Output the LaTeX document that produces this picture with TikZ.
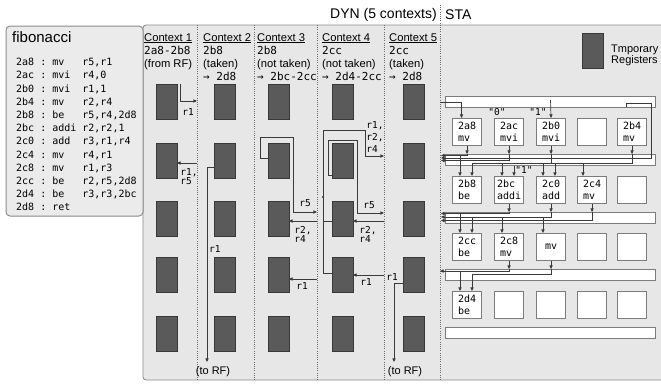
\documentclass[tikz,border=0pt]{standalone}
\usepackage{fontspec}
\setmainfont{Liberation Sans}
\newfontfamily\monof{DejaVu Sans Mono}
\usetikzlibrary{arrows.meta}
\definecolor{panelfill}{HTML}{E7E7E7}
\definecolor{codefill}{HTML}{EBEBEB}
\definecolor{edgec}{HTML}{8C8C8C}
\definecolor{regfill}{HTML}{5A5A5A}
\definecolor{regedge}{HTML}{383838}
\definecolor{wirec}{HTML}{3A3A3A}
\definecolor{boxedge}{HTML}{7C7C7C}
\definecolor{dotc}{HTML}{6E6E6E}
\newcommand\codeln[3]{\makebox[36.12pt][l]{#1 :}\makebox[30.1pt][l]{#2}#3}
\begin{document}
\begin{tikzpicture}[x=1pt,y=-1pt,
  regbox/.style={draw=regedge,fill=regfill,line width=0.6pt,minimum width=21pt,minimum height=35pt,inner sep=0pt,outer sep=0pt,anchor=north west},
  insbox/.style={draw=boxedge,fill=white,line width=1.1pt,minimum width=29pt,minimum height=27pt,inner sep=0pt,anchor=north west,font=\monof\fontsize{10}{12}\selectfont,align=left},
  busbar/.style={draw=boxedge,fill=white,line width=1.1pt,minimum width=210pt,minimum height=11pt,inner sep=0pt,anchor=north west},
  wire/.style={draw=wirec,line width=0.7pt},
  arr/.style={wire,-{Triangle[length=3.6pt,width=3.2pt]}},
  rlab/.style={font=\monof\fontsize{9.5}{9}\selectfont,inner sep=0pt,align=left},
  ctxhead/.style={font=\fontsize{11.2}{13}\selectfont,inner sep=0pt,anchor=base west},
  ctxaddr/.style={font=\monof\fontsize{11}{13}\selectfont,inner sep=0pt,anchor=base west},
  sepline/.style={draw=dotc,line width=0.7pt,dash pattern=on 1pt off 1.2pt},
  codeline/.style={font=\monof\fontsize{10}{12}\selectfont,inner sep=0pt,anchor=base west},
  constlab/.style={font=\monof\fontsize{9.5}{10}\selectfont,inner sep=0pt},
  bigtitle/.style={font=\fontsize{14}{16}\selectfont,inner sep=0pt}
]
\useasboundingbox (0,0) rectangle (661,383);
% panels
\draw[fill=panelfill,draw=edgec,line width=0.9pt,rounded corners=3pt] (143,25) rectangle (672,380);
\draw[fill=codefill,draw=edgec,line width=1pt,rounded corners=4pt] (6,26) rectangle (143,216);
% titles
\node[bigtitle,anchor=east] (dyn) at (437,15) {DYN (5 contexts)};
\node[bigtitle,anchor=west] (sta) at (445,15) {STA};
% code
\node[font=\fontsize{15}{17}\selectfont,inner sep=0pt,anchor=base west] (fib) at (12,42) {fibonacci};
\foreach \a/\m/\o [count=\i] in {2a8/mv/{r5,r1},2ac/mvi/{r4,0},2b0/mvi/{r1,1},2b4/mv/{r2,r4},2b8/be/{r5,r4,2d8},2bc/addi/{r2,r2,1},2c0/add/{r3,r1,r4},2c4/mv/{r4,r1},2c8/mv/{r1,r3},2cc/be/{r2,r5,2d8},2d4/be/{r3,r3,2bc},2d8/ret/{}}
  \node[codeline] (code\i) at (16,{65.6+13.2*(\i-1)}) {\codeln{\a}{\m}{\o}};
% separators
\foreach \x [count=\i] in {197,254,317,384}
  \draw[sepline] (\x,25) -- (\x,380);
\draw[sepline] (440,5) -- (440,380);
% context headers
\foreach \x/\n/\ad/\st/\go in {144/1/2a8-2b8/(from RF)/,203/2/2b8/(taken)/{→ 2d8},257/3/2b8/(not taken)/{→ 2bc-2cc},322/4/2cc/(not taken)/{→ 2d4-2cc},389/5/2cc/(taken)/{→ 2d8}}{
  \node[ctxhead] (ch\n) at (\x,41) {\underline{Context \n}};
  \node[ctxaddr] (ca\n) at (\x,54) {\ad};
  \node[ctxhead] (cs\n) at (\x,67) {\st};
  \node[ctxaddr] (cg\n) at (\x,80) {\go};
}
% registers
\foreach \c/\x in {1/156,2/214,3/268,4/332,5/403}
  \foreach \r/\y in {1/84,2/143,3/201,4/257,5/316}
    \node[regbox] (r\c\r) at (\x,\y) {};
% legend
\node[regbox] (legreg) at (582,33) {};
\node[font=\fontsize{11}{11}\selectfont,inner sep=0pt,anchor=west,align=left] (legtxt) at (611,55.6) {Tmporary\\Registers};
% ---- context wires
\coordinate (c1o) at (197,101);
\draw[arr] ([xshift=3pt]r11.north east) |- (c1o);
\node[rlab] (l11) at (188,112) {r1};
\coordinate (c1i) at (197,163);
\draw[arr] (c1i) -- (c1i -| r12.east);
\node[rlab] (l12) at (189,177) {r1,\\r5};
\coordinate (c2o) at (207,362);
\draw[arr] ([yshift=-6.5pt]r22.west) -| (c2o);
\node[rlab,anchor=west] (l22) at (209,249) {r1};
\node[font=\fontsize{11}{13}\selectfont,inner sep=0pt] (torf1) at (213,372) {(to RF)};
\coordinate (c3t) at (293,137);
\coordinate (c3o) at (317,212);
\draw[arr] ([yshift=2.5pt]r32.west) -- ++(-8,0) |- (c3t) |- (c3o);
\node[rlab] (l32) at (305,203) {r5};
\coordinate (c3i1) at (317,221);
\draw[arr] (c3i1) -- (c3i1 -| r33.east);
\node[rlab] (l33) at (303,234) {r2,\\r4};
\coordinate (c3i2) at (317,279);
\draw[arr] (c3i2) -- (c3i2 -| r34.east);
\node[rlab] (l34) at (302,286) {r1};
\coordinate (c4t) at (365,130);
\coordinate (c4o) at (384,156);
\draw[arr] ([yshift=1.5pt]r44.west) -- ++(-9,0) |- (c4t) |- (c4o);
\draw[wire] ([yshift=-2.5pt]r43.west) -- ++(-9,0);
\coordinate (c4dot) at (323,197);
\fill[wirec] (c4dot) circle (1.2pt);
\node[rlab,align=left,font=\monof\fontsize{9.5}{12}\selectfont] (l41) at (375,137) {r1,\\r2,\\r4};
\coordinate (c4u) at (357,140);
\coordinate (c4o2) at (384,213);
\draw[arr] ([yshift=-14.5pt]r42.west) -- ++(-4,0) |- (c4u) |- (c4o2);
\node[rlab] (l42) at (369,205) {r5};
\coordinate (c4i1) at (384,221);
\draw[arr] (c4i1) -- (c4i1 -| r43.east);
\node[rlab] (l43) at (368,234) {r2,\\r4};
\coordinate (c4i2) at (384,275);
\draw[arr] (c4i2) -- (c4i2 -| r44.east);
\node[rlab] (l44) at (366,282) {r1};
\coordinate (c5o) at (394,362);
\draw[arr] ([yshift=-9pt]r54.west) -| (c5o);
\node[rlab] (l54) at (392,277) {r1};
\node[font=\fontsize{11}{13}\selectfont,inner sep=0pt] (torf2) at (405,372) {(to RF)};
% ---- STA
\foreach \y [count=\i] in {96,154,212,269,327}
  \node[busbar] (b\i) at (445,\y) {};
\node[insbox] (s11) at (452,118) {2a8\\mv};
\node[insbox] (s12) at (494,118) {2ac\\mvi};
\node[insbox] (s13) at (536,118) {2b0\\mvi};
\node[insbox] (s14) at (577,118) {};
\node[insbox] (s15) at (617,118) {2b4\\mv};
\node[insbox] (s21) at (452,176) {2b8\\be};
\node[insbox] (s22) at (494,176) {2bc\\addi};
\node[insbox] (s23) at (536,176) {2c0\\add};
\node[insbox] (s24) at (577,176) {2c4\\mv};
\node[insbox] (s25) at (617,176) {};
\node[insbox] (s31) at (452,233) {2cc\\be};
\node[insbox] (s32) at (494,233) {2c8\\mv};
\node[insbox] (s33) at (536,233) {mv};
\node[insbox] (s34) at (577,233) {};
\node[insbox] (s35) at (617,233) {};
\node[insbox] (s41) at (452,291) {2d4\\be};
\node[insbox] (s42) at (494,291) {};
\node[insbox] (s43) at (536,291) {};
\node[insbox] (s44) at (577,291) {};
\node[insbox] (s45) at (617,291) {};
\node[constlab] (k0) at (497,112.5) {"0"};
\node[constlab] (k1) at (538,112.5) {"1"};
\node[constlab] (k2) at (524,170) {"1"};
% coordinates
\coordinate (xL) at (441,0);
\coordinate (xL0) at (440,0);
\coordinate (xA) at (460,0);
\coordinate (xB) at (472,0);
\coordinate (xC) at (502,0);
\coordinate (xD) at (514,0);
\coordinate (xE) at (543,0);
\coordinate (xF) at (555,0);
\coordinate (xG) at (583,0);
\coordinate (y155) at (0,155.5);
\coordinate (y158) at (0,158);
\coordinate (y160) at (0,160.5);
\coordinate (y163) at (0,163);
\coordinate (y213) at (0,213.5);
\coordinate (y217) at (0,217);
\coordinate (y220) at (0,220.5);
\coordinate (y271) at (0,271);
\coordinate (y274) at (0,274);
% bar 1
\coordinate (in1) at (440,102);
\draw[arr] (in1) -| ([xshift=-5.5pt]s11.north);
\coordinate (top13) at (550.5,100);
\draw[arr] (top13) -- (s13.north);
\coordinate (lp1) at (626,107);
\coordinate (lp2) at (651,103);
\draw[arr] (lp1) |- (lp2) |- (xL |- y158);
% row 1 -> bar 2
\foreach \b in {s11,s12,s13,s15}
  \draw[arr] (\b.south) -- (\b.south |- b2.north);
\draw[arr] (s11.south |- b2.north) |- (xL |- y155);
\draw[arr] (s12.south |- b2.north) |- (xL |- y160);
\draw[wire] (s15.south |- b2.north) |- (xB |- y163);
\draw[wire] (s13.south |- b2.north) -- (s13.south |- y163);
\draw[arr] (xA |- y155) -- (xA |- s21.north);
\draw[arr] (xB |- y163) -- (xB |- s21.north);
\draw[arr] (xC |- y163) -- (xC |- s22.north);
\draw[arr] (xD |- b2.south) -- (xD |- s22.north);
\draw[arr] (xE |- y163) -- (xE |- s23.north);
\draw[arr] (xF |- y163) -- (xF |- s23.north);
\draw[arr] (xG |- y163) -- (xG |- s24.north);
% row 2 -> bar 3
\foreach \b in {s22,s23,s24}
  \draw[arr] (\b.south) -- (\b.south |- b3.north);
\draw[arr] (s22.south |- b3.north) |- (xL |- y213);
\draw[arr] (s23.south |- b3.north) |- (xL |- y217);
\draw[arr] (s24.south |- b3.north) |- (xL |- y220);
\draw[arr] (xA |- y213) -- (xA |- s31.north);
\draw[arr] (xB |- y217) -- (xB |- s31.north);
\draw[arr] (xC |- y217) -- (xC |- s32.north);
\draw[arr] (xE |- y217) -- (xE |- s33.north);
% row 3 -> bar 4
\foreach \b in {s32,s33}
  \draw[arr] (\b.south) -- (\b.south |- b4.north);
\draw[arr] (s32.south |- b4.north) |- (xL0 |- y271);
\draw[wire] (s33.south |- b4.north) |- (xB |- y274);
\draw[arr] (xA |- y271) -- (xA |- s41.north);
\draw[arr] (xB |- y274) -- (xB |- s41.north);
\end{tikzpicture}
\end{document}
